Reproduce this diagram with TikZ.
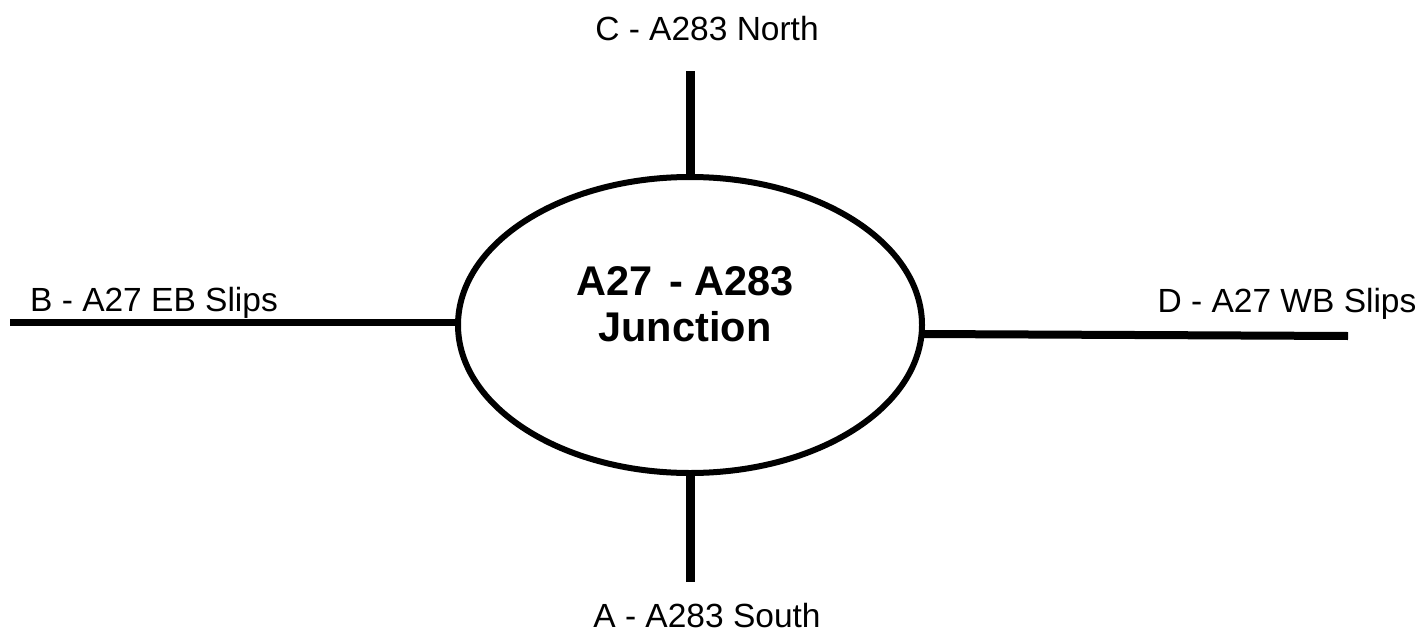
\documentclass[tikz,border=0pt]{standalone}
\usepackage{fontspec}
\setmainfont{Liberation Sans}
\usetikzlibrary{shapes.geometric}
\begin{document}
\begin{tikzpicture}[x=1pt,y=-1pt,
  road/.style={line width=7pt, line cap=butt},
  lbl/.style={font=\fontsize{33.5}{40}\selectfont, inner sep=0pt, anchor=base},
  junc/.style={ellipse, draw, line width=6pt, minimum width=464pt, minimum height=296pt, inner sep=0pt}]
\useasboundingbox (0,0) rectangle (1427,637);
\node[junc] (j) at (690,325) {};
\node[font=\bfseries\fontsize{41.5}{46}\selectfont, align=center, inner sep=0pt] (t) at (685,304) {A27\kern5pt{} - A283\\Junction};
\coordinate (cN) at (690,71);
\coordinate (cS) at (690,582);
\coordinate (cW) at (10,322);
\coordinate (cE) at (1348,336);
\draw[road, line width=9pt] (cN) -- (j.north);
\draw[road, line width=9pt] (cS) -- (j.south);
\draw[road] (cW) -- (j.west |- cW);
\draw[road, line width=8pt] (cE) -- (923,334);
\node[lbl] (lc) at (707,40) {C - A283 North};
\node[lbl] (la) at (707,627) {A - A283 South};
\node[lbl] (lb) at (154,311) {B - A27 EB Slips};
\node[lbl] (ld) at (1287,312) {D - A27 WB Slips};
\end{tikzpicture}
\end{document}
